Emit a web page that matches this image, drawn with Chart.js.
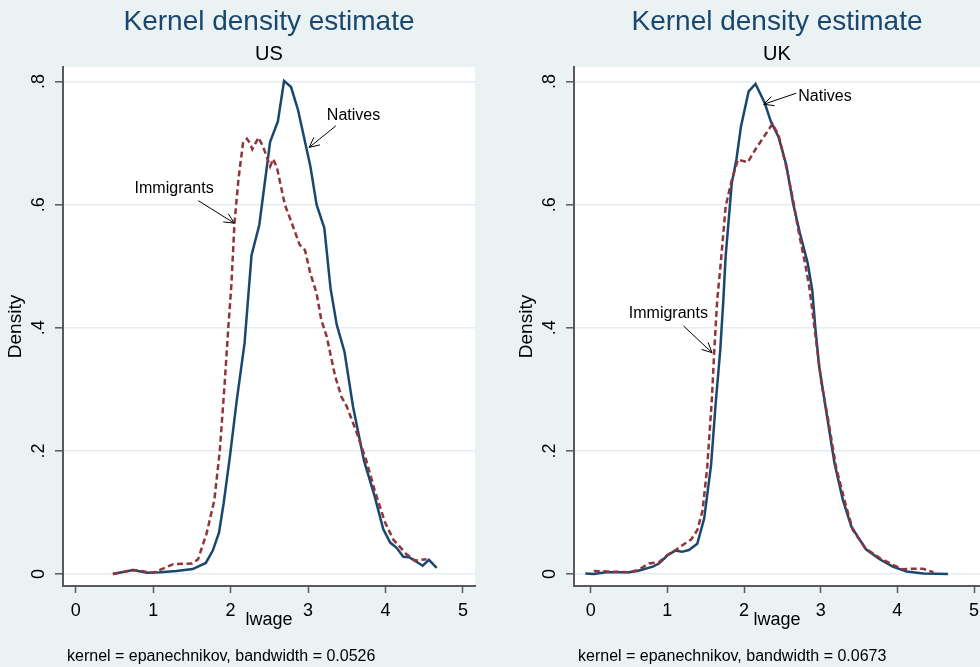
<!DOCTYPE html>
<html>
<head>
<meta charset="utf-8">
<script src="https://cdn.jsdelivr.net/npm/chart.js@4.4.0/dist/chart.umd.min.js"></script>
<style>
  html, body { margin: 0; padding: 0; background: #eaf2f3; overflow: hidden; }
  #wrap { position: relative; width: 980px; height: 667px; }
  #usChart { position: absolute; left: 0; top: 0; }
  #ukChart { position: absolute; left: 490px; top: 0; }
</style>
</head>
<body>
<div id="wrap">
  <canvas id="usChart" width="490" height="667"></canvas>
  <canvas id="ukChart" width="510" height="667"></canvas>
</div>
<script>
// --- data (lwage, density) ---
const natUsX = [0.48,0.74,0.92,1.09,1.30,1.51,1.68,1.77,1.85,1.91,1.99,2.08,2.18,2.27,2.37,2.51,2.61,2.69,2.78,2.87,3.03,3.11,3.21,3.29,3.37,3.47,3.58,3.72,3.86,3.97,4.06,4.14,4.23,4.31,4.48,4.56,4.66];
const natUsY = [0,0.0065,0.002,0.003,0.005,0.008,0.018,0.038,0.067,0.115,0.19,0.283,0.375,0.518,0.567,0.702,0.735,0.801,0.791,0.754,0.662,0.6,0.562,0.464,0.405,0.361,0.272,0.185,0.126,0.073,0.051,0.043,0.028,0.027,0.0135,0.023,0.010];

const immUsX = [0.48,0.74,1.0,1.26,1.50,1.58,1.69,1.79,1.86,1.92,1.97,2.01,2.05,2.10,2.16,2.21,2.25,2.28,2.36,2.42,2.51,2.55,2.60,2.70,2.79,2.89,2.96,3.03,3.11,3.17,3.24,3.35,3.43,3.50,3.63,3.75,3.86,3.99,4.10,4.27,4.38,4.53];
const immUsY = [0,0.0065,0.002,0.016,0.017,0.024,0.066,0.12,0.2,0.304,0.40,0.47,0.57,0.64,0.70,0.707,0.70,0.69,0.709,0.694,0.662,0.674,0.659,0.6,0.57,0.535,0.526,0.488,0.456,0.413,0.386,0.321,0.288,0.272,0.229,0.185,0.136,0.085,0.056,0.032,0.022,0.024];

const natUkX = [-0.07,0.04,0.20,0.50,0.61,0.81,0.89,1.0,1.10,1.19,1.28,1.39,1.48,1.57,1.63,1.69,1.73,1.76,1.84,1.90,1.96,2.06,2.15,2.27,2.35,2.45,2.55,2.64,2.73,2.83,2.89,2.93,2.98,3.07,3.18,3.29,3.40,3.59,3.77,3.94,4.12,4.34,4.66];
const natUkY = [0.001,0,0.003,0.003,0.005,0.012,0.017,0.030,0.038,0.036,0.039,0.049,0.09,0.177,0.277,0.364,0.445,0.516,0.635,0.673,0.727,0.784,0.796,0.765,0.735,0.710,0.665,0.602,0.553,0.505,0.461,0.40,0.337,0.266,0.18,0.12,0.077,0.040,0.024,0.012,0.004,0.001,0];

const immUkX = [0.04,0.22,0.50,0.61,0.76,0.89,1.0,1.11,1.20,1.31,1.39,1.46,1.52,1.58,1.61,1.65,1.70,1.76,1.83,1.92,2.05,2.16,2.29,2.37,2.45,2.55,2.64,2.70,2.80,2.85,2.89,3.01,3.09,3.20,3.31,3.42,3.59,3.77,3.94,4.07,4.20,4.33,4.47];
const immUkY = [0.005,0.004,0.003,0.006,0.017,0.019,0.031,0.039,0.047,0.056,0.071,0.104,0.174,0.283,0.359,0.445,0.51,0.597,0.635,0.673,0.669,0.692,0.716,0.731,0.713,0.662,0.608,0.564,0.502,0.467,0.429,0.31,0.256,0.174,0.12,0.071,0.041,0.026,0.015,0.0076,0.0087,0.0087,0.003];

const xTicks = [0, 1, 2, 3, 4, 5];
const yTicks = [0, 0.2, 0.4, 0.6, 0.8];
const yTickLabels = ['0', '.2', '.4', '.6', '.8'];

// text labels with arrows (text position, arrow start, arrow tip) in data units
const usNotes = [
  { text: 'Natives', tx: 3.587, ty: 0.745, x0: 3.359, y0: 0.728, x1: 3.014, y1: 0.693 },
  { text: 'Immigrants', tx: 1.271, ty: 0.626, x0: 1.582, y0: 0.6065, x1: 2.046, y1: 0.570 },
];
const ukNotes = [
  { text: 'Natives', tx: 3.056, ty: 0.775, x0: 2.680, y0: 0.781, x1: 2.256, y1: 0.763 },
  { text: 'Immigrants', tx: 1.013, ty: 0.4227, x0: 1.210, y0: 0.403, x1: 1.583, y1: 0.3595 },
];

const FONT = "'Liberation Sans', Arial, Helvetica, sans-serif";
const NAVY = '#1a476f';
const MAROON = '#90353b';
const AXIS = '#595959';

Chart.defaults.font.family = FONT;
Chart.defaults.color = '#000';

const toPoints = (xs, ys) => xs.map((x, i) => ({ x: x, y: ys[i] }));

// white plot region
const plotBg = {
  id: 'plotBg',
  beforeDraw(chart) {
    const { ctx, chartArea: a } = chart;
    ctx.save();
    ctx.fillStyle = '#ffffff';
    ctx.fillRect(a.left, a.top, a.right - a.left, a.bottom - a.top);
    ctx.restore();
  }
};

// arrow labels + kernel note under the axis
const arrowNotes = {
  id: 'arrowNotes',
  afterDatasetsDraw(chart, args, opts) {
    const { ctx, scales: { x, y } } = chart;
    ctx.save();
    ctx.font = '16px ' + FONT;
    ctx.fillStyle = '#000';
    ctx.strokeStyle = '#000';
    ctx.lineWidth = 1;
    ctx.textAlign = 'center';
    ctx.textBaseline = 'middle';
    opts.notes.forEach(n => {
      ctx.fillText(n.text, x.getPixelForValue(n.tx), y.getPixelForValue(n.ty));
      const px0 = x.getPixelForValue(n.x0), py0 = y.getPixelForValue(n.y0);
      const px1 = x.getPixelForValue(n.x1), py1 = y.getPixelForValue(n.y1);
      const ang = Math.atan2(py1 - py0, px1 - px0);
      ctx.beginPath();
      ctx.moveTo(px0, py0);
      ctx.lineTo(px1, py1);
      ctx.moveTo(px1 - 11 * Math.cos(ang - 0.45), py1 - 11 * Math.sin(ang - 0.45));
      ctx.lineTo(px1, py1);
      ctx.lineTo(px1 - 11 * Math.cos(ang + 0.45), py1 - 11 * Math.sin(ang + 0.45));
      ctx.stroke();
    });
    ctx.textAlign = 'left';
    ctx.textBaseline = 'alphabetic';
    ctx.fillText(opts.footnote, chart.chartArea.left + 4, 661);
    ctx.restore();
  }
};

function makeChart(id, cfg) {
  return new Chart(document.getElementById(id), {
    type: 'line',
    data: {
      datasets: [
        {
          label: 'Natives',
          data: toPoints(cfg.natX, cfg.natY),
          borderColor: NAVY,
          borderWidth: 2.5,
          pointRadius: 0,
          tension: 0,
          order: 1,
        },
        {
          label: 'Immigrants',
          data: toPoints(cfg.immX, cfg.immY),
          borderColor: MAROON,
          borderWidth: 2.5,
          borderDash: [6, 3.5],
          pointRadius: 0,
          tension: 0,
          order: 0,
        },
      ],
    },
    options: {
      responsive: false,
      animation: false,
      devicePixelRatio: 1,
      layout: { padding: { left: cfg.padLeft, right: cfg.padRight, top: 0, bottom: 0 } },
      plugins: {
        legend: { display: false },
        tooltip: { enabled: false },
        title: {
          display: true,
          text: 'Kernel density estimate',
          color: NAVY,
          fullSize: false,
          font: { size: 28, weight: 'normal', lineHeight: 1 },
          padding: { top: 8, bottom: 0 },
        },
        subtitle: {
          display: true,
          text: cfg.subtitle,
          color: '#000',
          fullSize: false,
          font: { size: 20, weight: 'normal', lineHeight: 1 },
          padding: { top: 8.1, bottom: 2.9 },
        },
        arrowNotes: { notes: cfg.notes, footnote: cfg.footnote },
      },
      scales: {
        x: {
          type: 'linear',
          min: cfg.xMin,
          max: cfg.xMax,
          afterBuildTicks: axis => { axis.ticks = xTicks.map(v => ({ value: v })); },
          afterFit: axis => { axis.height = 81; },
          ticks: { font: { size: 18 }, padding: 7, color: '#000', maxRotation: 0 },
          grid: { drawOnChartArea: false, drawTicks: true, tickLength: 7, tickColor: AXIS, tickWidth: 1.5 },
          border: { color: AXIS, width: 2 },
          title: {
            display: true,
            text: 'lwage',
            font: { size: 18, lineHeight: 1 },
            padding: { top: 0, bottom: 38 },
          },
        },
        y: {
          min: -0.0195,
          max: 0.8236,
          afterBuildTicks: axis => { axis.ticks = yTicks.map(v => ({ value: v })); },
          afterFit: axis => { axis.width = 63; },
          ticks: {
            font: { size: 18 },
            padding: 8.5,
            color: '#000',
            minRotation: 90,
            maxRotation: 90,
            crossAlign: 'center',
            callback: (v, i) => yTickLabels[i],
          },
          grid: { color: '#e4ecef', lineWidth: 1.6, drawTicks: true, tickLength: 8, tickColor: AXIS, tickWidth: 1.5 },
          border: { color: AXIS, width: 2 },
          title: {
            display: true,
            text: 'Density',
            font: { size: 19, lineHeight: 1 },
            padding: { top: 6.3, bottom: 0 },
          },
        },
      },
    },
    plugins: [plotBg, arrowNotes],
  });
}

makeChart('usChart', {
  natX: natUsX, natY: natUsY, immX: immUsX, immY: immUsY,
  subtitle: 'US',
  notes: usNotes,
  footnote: 'kernel = epanechnikov, bandwidth = 0.0526',
  xMin: -0.164, xMax: 5.155,
  padLeft: 0, padRight: 15,
});

makeChart('ukChart', {
  natX: natUkX, natY: natUkY, immX: immUkX, immY: immUkY,
  subtitle: 'UK',
  notes: ukNotes,
  footnote: 'kernel = epanechnikov, bandwidth = 0.0673',
  xMin: -0.218, xMax: 5.078,
  padLeft: 21, padRight: 20,
});
</script>
</body>
</html>
